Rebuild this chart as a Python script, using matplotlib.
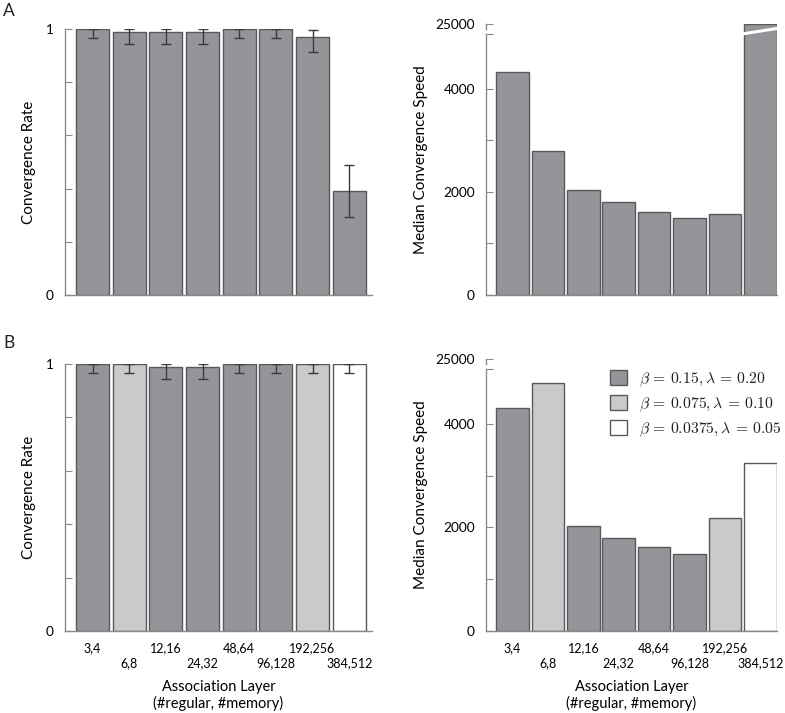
import numpy as np
import matplotlib
matplotlib.use("Agg")
import matplotlib.pyplot as plt
from matplotlib.patches import Patch

plt.rcParams['font.family'] = ['Lato', 'DejaVu Sans']
plt.rcParams['mathtext.fontset'] = 'cm'
plt.rcParams['text.color'] = '#231f20'

layers = ["3,4", "6,8", "12,16", "24,32", "48,64", "96,128", "192,256", "384,512"]

# panel A
rate_a = [1.0, 0.99, 0.99, 0.99, 1.0, 1.0, 0.97, 0.39]
rate_a_lo = [0.965, 0.945, 0.945, 0.945, 0.965, 0.965, 0.915, 0.295]
rate_a_hi = [1.0, 1.0, 1.0, 1.0, 1.0, 1.0, 0.995, 0.49]
speed_a = [4320, 2790, 2025, 1795, 1615, 1485, 1560, 25000]

# panel B
rate_b = [1.0, 1.0, 0.99, 0.99, 1.0, 1.0, 1.0, 1.0]
rate_b_lo = [0.965, 0.965, 0.945, 0.945, 0.965, 0.965, 0.965, 0.965]
rate_b_hi = [1.0, 1.0, 1.0, 1.0, 1.0, 1.0, 1.0, 1.0]
speed_b = [4310, 4795, 2025, 1790, 1615, 1490, 2175, 3240]
group_b = [0, 1, 0, 0, 0, 0, 1, 2]

group_labels = [r"$\beta\,=\,0.15, \lambda\,=\,0.20$",
                r"$\beta\,=\,0.075, \lambda\,=\,0.10$",
                r"$\beta\,=\,0.0375, \lambda\,=\,0.05$"]
group_colors = ["#939598", "#c9cacc", "#ffffff"]

BREAK_TOP = 5250   # display height where 25000 sits
BREAK_AT = 5050
EDGE = "#58595b"
SPINE = "#8a8a8a"

W, H = 785, 713
fig = plt.figure(figsize=(W / 100, H / 100), dpi=100)


def px_axes(x0, x1, ytop, ybot):
    return fig.add_axes([x0 / W, 1 - ybot / H, (x1 - x0) / W, (ybot - ytop) / H])


def style(ax, show_x):
    for s in ["top", "right"]:
        ax.spines[s].set_visible(False)
    for s in ["left", "bottom"]:
        ax.spines[s].set_color(SPINE)
        ax.spines[s].set_linewidth(1.0)
    ax.tick_params(axis="y", direction="in", length=5, color=SPINE, labelsize=9.8, pad=8)
    # staggered x labels: even groups on the first row, odd on the second
    x = np.arange(len(layers))
    ax.set_xticks(x[::2])
    ax.set_xticks(x[1::2], minor=True)
    ax.tick_params(axis="x", which="major", length=0, labelsize=9, pad=8)
    ax.tick_params(axis="x", which="minor", length=0, labelsize=9, pad=18.5)
    if show_x:
        ax.set_xticklabels(layers[::2], fontstretch="condensed")
        ax.set_xticklabels(layers[1::2], minor=True, fontstretch="condensed")
    else:
        ax.set_xticklabels([])
        ax.set_xticklabels([], minor=True)


def rate_panel(ax, vals, lo, hi, colors, show_x):
    x = np.arange(len(vals))
    vals = np.array(vals)
    err = [vals - np.array(lo), np.array(hi) - vals]
    ax.bar(x, vals, width=0.9, color=colors, edgecolor=EDGE, linewidth=1.0)
    ax.errorbar(x, vals, yerr=err, fmt="none", ecolor="#3a3a3a", elinewidth=1.0, capsize=3.5, capthick=1.0)
    ax.set_xlim(-0.75, 7.62)
    ax.set_ylim(0, 1)
    ax.set_yticks([0, 0.2, 0.4, 0.6, 0.8, 1.0])
    ax.set_yticklabels(["0", "", "", "", "", "1"])
    ax.set_ylabel("Convergence Rate", fontsize=11, labelpad=7)
    style(ax, show_x)


def speed_panel(ax, vals, colors, show_x):
    x = np.arange(len(vals))
    shown = [v if v < BREAK_AT else BREAK_TOP for v in vals]
    ax.bar(x, shown, width=0.92, color=colors, edgecolor=EDGE, linewidth=1.0)
    for xi, v in zip(x, vals):
        if v >= BREAK_AT:
            ax.plot([xi - 0.49, xi + 0.49], [5060, 5165], color="white", lw=2.2, solid_capstyle="butt")
    ax.set_xlim(-0.75, 7.47)
    ax.set_ylim(0, BREAK_TOP)
    ax.set_yticks([0, 1000, 2000, 3000, 4000, BREAK_AT, BREAK_TOP])
    ax.set_yticklabels(["0", "", "2000", "", "4000", "", "25000"])
    ax.set_ylabel("Median Convergence Speed", fontsize=11, labelpad=5)
    style(ax, show_x)
    ax.spines["left"].set_bounds(0, BREAK_AT)
    ax.plot([0, 0], [5150, BREAK_TOP], color=SPINE, lw=1.0,
            transform=ax.get_yaxis_transform(), clip_on=False)


ax1 = px_axes(65, 372, 29, 295)
rate_panel(ax1, rate_a, rate_a_lo, rate_a_hi, group_colors[0], False)

ax2 = px_axes(486, 777, 24, 295)
speed_panel(ax2, speed_a, group_colors[0], False)

cols_b = [group_colors[g] for g in group_b]
ax3 = px_axes(65, 372, 364, 631)
rate_panel(ax3, rate_b, rate_b_lo, rate_b_hi, cols_b, True)

ax4 = px_axes(486, 777, 359, 631)
speed_panel(ax4, speed_b, cols_b, True)

for ax in (ax3, ax4):
    ax.set_xlabel("Association Layer\n(#regular, #memory)", fontsize=10.5, labelpad=8.5,
                  fontstretch="condensed", linespacing=1.08)

handles = [Patch(facecolor=c, edgecolor=EDGE, linewidth=1.0) for c in group_colors]
ax4.legend(handles, group_labels, loc="upper left", bbox_to_anchor=(610 / W, 1 - 370 / H),
           bbox_transform=fig.transFigure, frameon=False, fontsize=11.3,
           handlelength=1.1, handleheight=1.1, handletextpad=0.75, labelspacing=0.42,
           borderpad=0, borderaxespad=0)

fig.text(3 / W, 1 - 3 / H, "A", fontsize=12.5, va="top", ha="left")
fig.text(3 / W, 1 - 335 / H, "B", fontsize=12.5, va="top", ha="left")

fig.savefig("out.png", dpi=100, facecolor="white")
